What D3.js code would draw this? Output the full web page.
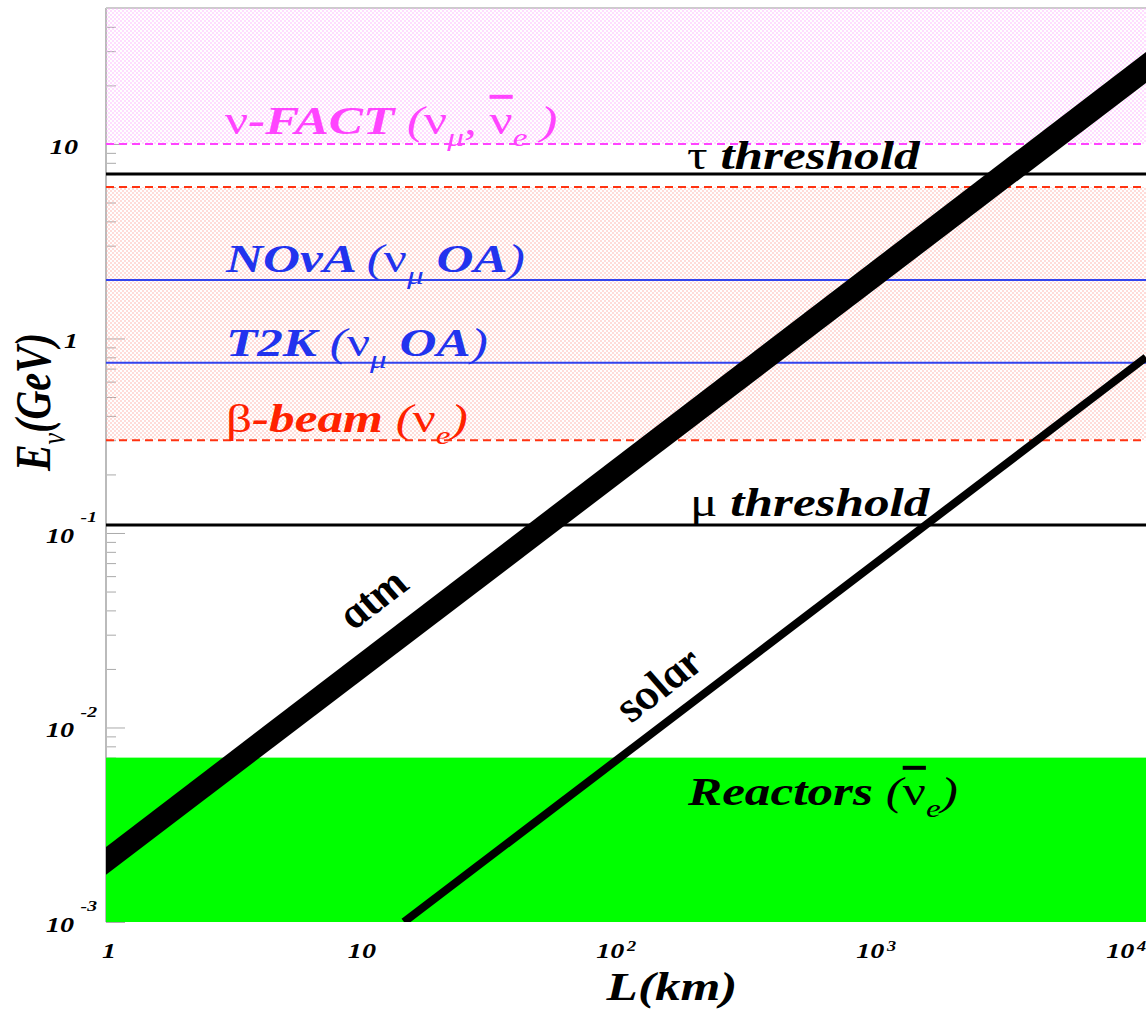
<!DOCTYPE html>
<html>
<head>
<meta charset="utf-8">
<script src="https://cdn.jsdelivr.net/npm/d3@7"></script>
<style>
  body { margin: 0; background: #fff; }
  text { font-family: "Liberation Serif", "Times New Roman", serif; }
</style>
</head>
<body>
<div id="chart"></div>
<script>
// axis ticks
const xTicks = [1, 10, 100, 1000, 10000];
const xTickExp = [null, null, '2', '3', '4'];
const yTicks = [0.001, 0.01, 0.1, 1, 10];
const yTickExp = ['-3', '-2', '-1', null, null];

// shaded energy ranges (GeV)
const regionNames = ['nufact', 'betabeam', 'reactors'];
const regionLow = [10, 0.3, 0.001];
const regionHigh = [50, 6, 0.007];

// horizontal lines (GeV)
const lineNames = ['nufact', 'tau', 'betaTop', 'nova', 't2k', 'beta', 'mu'];
const lineE = [10, 7, 6, 2, 0.75, 0.3, 0.11];

// atmospheric band and solar line, L (km) vs E (GeV)
const atmL = [1, 10000];
const atmLow = [0.00175, 20.6];
const atmHigh = [0.00243, 29.7];
const solarL = [14, 10000];
const solarE = [0.001, 0.8];

const W = 1148, H = 1011;
const SX = 1.28; // picture is stretched sideways
const pL = 106, pR = 1146, pT = 8, pB = 922;

const x = d3.scaleLog().domain([1, 10000]).range([pL, pR]);
const y = d3.scaleLog().domain([0.001, 50]).range([pB, pT]);

const svg = d3.select('#chart').append('svg')
  .attr('width', W).attr('height', H);

const defs = svg.append('defs');
function dots(id, col) {
  const p = defs.append('pattern').attr('id', id)
    .attr('width', 4).attr('height', 4).attr('patternUnits', 'userSpaceOnUse');
  p.append('circle').attr('cx', 1).attr('cy', 1).attr('r', 0.75).attr('fill', col);
  p.append('circle').attr('cx', 3).attr('cy', 3).attr('r', 0.75).attr('fill', col);
}
dots('pink', '#ffaaff');
dots('salmon', '#ffa8a0');
defs.append('clipPath').attr('id', 'plot')
  .append('rect').attr('x', pL).attr('y', pT)
  .attr('width', pR - pL).attr('height', pB - pT);

// frame + ticks
const minor = [];
for (let e = -3; e <= 1; e++) for (let m = 2; m <= 9; m++) {
  const v = m * Math.pow(10, e);
  if (v <= 50) minor.push(v);
}
svg.append('g').attr('transform', `translate(${pL},0)`)
  .call(d3.axisLeft(y).tickValues(minor).tickSize(-10).tickFormat(''))
  .call(g => g.selectAll('line').attr('stroke', '#aaa'))
  .call(g => g.select('.domain').remove());
svg.append('g').attr('transform', `translate(${pL},0)`)
  .call(d3.axisLeft(y).tickValues(yTicks).tickSize(-19).tickFormat(''))
  .call(g => g.selectAll('line').attr('stroke', '#aaa'))
  .call(g => g.select('.domain').remove());
svg.append('line').attr('x1', pL).attr('x2', pL).attr('y1', pT).attr('y2', pB)
  .attr('stroke', '#bbb').attr('stroke-width', 2);
svg.append('line').attr('x1', pL).attr('x2', pR).attr('y1', pT).attr('y2', pT)
  .attr('stroke', '#ccc').attr('stroke-width', 2);

const plot = svg.append('g').attr('clip-path', 'url(#plot)');

const regionFill = ['url(#pink)', 'url(#salmon)', '#00ff00'];
plot.selectAll('rect.region').data(regionNames).join('rect')
  .attr('class', 'region')
  .attr('x', pL).attr('width', pR - pL)
  .attr('y', (d, i) => y(regionHigh[i]))
  .attr('height', (d, i) => y(regionLow[i]) - y(regionHigh[i]))
  .attr('fill', (d, i) => regionFill[i]);

const lineStyle = {
  nufact: ['#ff44ff', 2, '8,5'],
  tau: ['#000', 3, null],
  betaTop: ['#ff3311', 2, '8,5'],
  nova: ['#3344ee', 2, null],
  t2k: ['#3344ee', 2, null],
  beta: ['#ff3311', 2, '8,5'],
  mu: ['#000', 3, null]
};
plot.selectAll('line.h').data(lineNames).join('line')
  .attr('class', 'h')
  .attr('x1', pL).attr('x2', pR)
  .attr('y1', (d, i) => y(lineE[i])).attr('y2', (d, i) => y(lineE[i]))
  .attr('stroke', d => lineStyle[d][0])
  .attr('stroke-width', d => lineStyle[d][1])
  .attr('stroke-dasharray', d => lineStyle[d][2]);

// atm band
const band = atmL.map((l, i) => ({ l, lo: atmLow[i], hi: atmHigh[i] }));
plot.append('path').datum(band)
  .attr('d', d3.area().x(d => x(d.l)).y0(d => y(d.lo)).y1(d => y(d.hi)))
  .attr('fill', '#000');

// solar line
plot.append('path').datum(solarL.map((l, i) => [l, solarE[i]]))
  .attr('d', d3.line().x(d => x(d[0])).y(d => y(d[1])))
  .attr('stroke', '#000').attr('stroke-width', 8).attr('fill', 'none');

// rich text helper: parts = [text, kind]; b=bold italic, n=upright, p=italic,
// s=subscript, u=small superscript, U=high superscript, o=overlined
function rich(px, py, parts, size, col, anchor, extra) {
  const t = svg.append('text')
    .attr('transform', `translate(${px},${py}) scale(${SX},1)` + (extra || ''))
    .attr('font-size', size).attr('fill', col)
    .attr('text-anchor', anchor || 'start');
  let shift = 0;
  parts.forEach(([s, k]) => {
    const sp = t.append('tspan').text(s);
    let want = 0;
    if (k === 'b') sp.attr('font-weight', 'bold').attr('font-style', 'italic');
    if (k === 'p') sp.attr('font-style', 'italic');
    if (k === 's') { sp.attr('font-size', size * 0.65).attr('font-style', 'italic'); want = size * 0.3; }
    if (k === 'u') { sp.attr('font-size', size * 0.65).attr('font-weight', 'bold').attr('font-style', 'italic').attr('dx', 2); want = -size * 0.3; }
    if (k === 'U') { sp.attr('font-size', size * 0.7).attr('font-weight', 'bold').attr('font-style', 'italic').attr('dx', 5); want = -size * 0.95; }
    if (k === 'o') sp.style('text-decoration', 'overline');
    if (want !== shift) { sp.attr('dy', want - shift); shift = want; }
  });
  return t;
}

// line labels
rich(225, 134, [['ν', 'n'], ['-FACT ', 'b'], ['(', 'p'], ['ν', 'n'], ['μ', 's'], [', ', 'p'], ['ν', 'o'], ['e', 's'], [' )', 'p']], 40, '#ff44ff');
rich(687, 169, [['τ ', 'n'], ['threshold', 'b']], 40, '#000');
rich(226, 272, [['NOvA ', 'b'], ['(', 'p'], ['ν', 'n'], ['μ', 's'], [' OA', 'b'], [')', 'p']], 40, '#2233ee');
rich(226, 356, [['T2K ', 'b'], ['(', 'p'], ['ν', 'n'], ['μ', 's'], [' OA', 'b'], [')', 'p']], 40, '#2233ee');
rich(226, 432, [['β', 'n'], ['-beam ', 'b'], ['(', 'p'], ['ν', 'n'], ['e', 's'], [')', 'p']], 40, '#ff2200');
rich(690, 516, [['μ ', 'n'], ['threshold', 'b']], 40, '#000');
rich(688, 805, [['Reactors ', 'b'], ['(', 'p'], ['ν', 'o'], ['e', 's'], [')', 'p']], 40, '#000');

// band labels, rotated along the lines
const ang = Math.atan(SX * (y(atmHigh[0]) - y(atmHigh[1])) / (x(atmL[1]) - x(atmL[0]))) * 180 / Math.PI;
rich(384, 608, [['atm', 'b']], 40, '#000', 'middle', ` rotate(${-ang})`);
rich(670, 694, [['solar', 'b']], 40, '#000', 'middle', ` rotate(${-ang})`);

// y tick labels
yTicks.forEach((v, i) => {
  if (yTickExp[i]) rich(97, y(v) + 10, [['10', 'b'], [yTickExp[i], 'U']], 22, '#000', 'end');
  else rich(78, y(v) + 10, [[v === 1 ? '1' : '10', 'b']], 22, '#000', 'end');
});
// x tick labels
xTicks.forEach((v, i) => {
  const parts = [[v === 1 ? '1' : '10', 'b']];
  if (xTickExp[i]) parts.push([xTickExp[i], 'u']);
  rich(Math.min(x(v) + 10, 1146), 958, parts, 22, '#000', 'end');
});

// axis titles
rich(672, 1000, [['L', 'b'], ['(km)', 'b']], 40, '#000', 'middle');
rich(50, 402, [['E', 'b'], ['ν', 's'], ['(GeV)', 'b']], 40, '#000', 'middle', ' rotate(-90)');
</script>
</body>
</html>
